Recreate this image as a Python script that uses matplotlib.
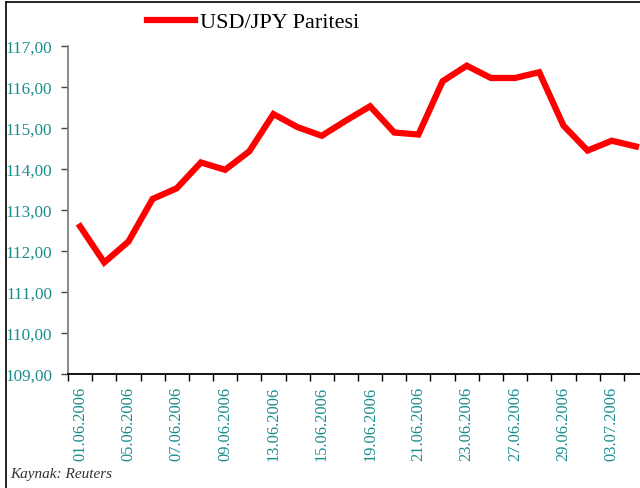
import numpy as np
import matplotlib.pyplot as plt
from matplotlib.lines import Line2D

# USD/JPY daily closes, June - early July 2006
dates = ['01.06.2006', '02.06.2006', '05.06.2006', '06.06.2006', '07.06.2006',
         '08.06.2006', '09.06.2006', '12.06.2006', '13.06.2006', '14.06.2006',
         '15.06.2006', '16.06.2006', '19.06.2006', '20.06.2006', '21.06.2006',
         '22.06.2006', '23.06.2006', '26.06.2006', '27.06.2006', '28.06.2006',
         '29.06.2006', '30.06.2006', '03.07.2006', '04.07.2006']
usdjpy = [112.60, 111.72, 112.23, 113.27, 113.53, 114.16, 113.98, 114.43,
          115.34, 115.02, 114.81, 115.18, 115.53, 114.89, 114.84, 116.14,
          116.52, 116.22, 116.22, 116.36, 115.06, 114.45, 114.69, 114.55]
yticks = [109, 110, 111, 112, 113, 114, 115, 116, 117]

teal = '#1a8c8c'
plt.rcParams['font.family'] = 'Liberation Serif'

fig = plt.figure(figsize=(6.4, 4.89), dpi=100)
ax = fig.add_axes([68 / 640, 1 - 375 / 489, 580 / 640, 328 / 489])

x = np.arange(len(dates))
line, = ax.plot(x, usdjpy, color='#ff0000', lw=4.5, solid_joinstyle='miter')

ax.set_xlim(-0.5, len(dates) - 0.5)
ax.set_ylim(109, 117)

# y axis
ax.set_yticks(yticks)
ax.set_yticklabels(['%d,00' % v for v in yticks], color=teal, fontsize=12.3)
ax.tick_params(axis='y', direction='out', length=5, width=1, color='#444444', pad=6.3)

# x axis: ticks on category boundaries, labels on every other category
ax.set_xticks(np.arange(-0.5, len(dates), 1))
ax.set_xticklabels([])
ax.tick_params(axis='x', which='major', direction='out', length=5, width=1, color='black')
ax.set_xticks(x[::2], minor=True)
ax.set_xticklabels(dates[::2], minor=True, rotation=90, color=teal, fontsize=11.8)
ax.tick_params(axis='x', which='minor', length=0, pad=8.5)

for s in ['top', 'right']:
    ax.spines[s].set_visible(False)
ax.spines['left'].set_color('#808080')
ax.spines['left'].set_linewidth(1.3)
ax.spines['bottom'].set_color('black')
ax.spines['bottom'].set_linewidth(1.3)

# legend on top
fig.legend([line], ['USD/JPY Paritesi'], loc='center left',
           bbox_to_anchor=(147 / 640, 1 - 23 / 489), frameon=False,
           fontsize=16, handlelength=2.15, handletextpad=0.25,
           borderpad=0, borderaxespad=0)

fig.text(10 / 640, 1 - 475 / 489, 'Kaynak: Reuters', fontsize=11,
         style='italic', color='#333333', va='center')

# frame lines on the left and top of the picture
fig.add_artist(Line2D([6 / 640, 6 / 640], [0, 1 - 3 / 489], color='black', lw=1.2))
fig.add_artist(Line2D([6 / 640, 1], [1 - 3 / 489, 1 - 3 / 489], color='black', lw=1.2))

fig.savefig('out.png', dpi=100)
